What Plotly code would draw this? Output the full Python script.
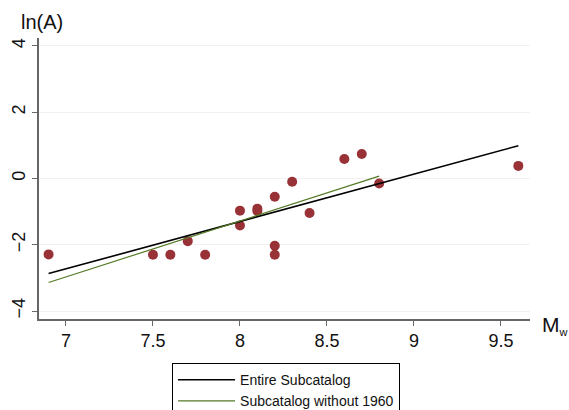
import plotly.graph_objects as go

# Moment magnitude and log amplitude of each event
mw = [6.9, 7.5, 7.6, 7.7, 7.8, 8.0, 8.0, 8.1, 8.1, 8.2, 8.2, 8.2,
      8.3, 8.4, 8.6, 8.7, 8.8, 9.6]
ln_a = [-2.29, -2.30, -2.30, -1.89, -2.30, -0.97, -1.42, -0.91, -0.98,
        -0.55, -2.03, -2.30, -0.10, -1.04, 0.59, 0.74, -0.15, 0.38]

# Fitted regression lines (endpoints of the fitted range)
fit_all_x = [6.9, 9.6]
fit_all_y = [-2.87, 0.99]
fit_no1960_x = [6.9, 8.8]
fit_no1960_y = [-3.14, 0.07]

x_ticks = [7, 7.5, 8, 8.5, 9, 9.5]
x_tick_text = ["7", "7.5", "8", "8.5", "9", "9.5"]
y_ticks = [-4, -2, 0, 2, 4]
y_tick_text = ["\u22124", "\u22122", "0", "2", "4"]

FONT = "Liberation Sans, Arial, Helvetica, sans-serif"

fig = go.Figure()
fig.add_trace(go.Scatter(
    x=mw, y=ln_a, mode="markers",
    marker=dict(color="#983237", size=10, line=dict(width=0)),
    showlegend=False,
))
fig.add_trace(go.Scatter(
    x=fit_all_x, y=fit_all_y, mode="lines",
    line=dict(color="#000000", width=1.6),
    name="Entire Subcatalog",
))
fig.add_trace(go.Scatter(
    x=fit_no1960_x, y=fit_no1960_y, mode="lines",
    line=dict(color="#557a25", width=1.2),
    name="Subcatalog without 1960",
))

fig.update_layout(
    width=569, height=410,
    margin=dict(l=39, r=39, t=38, b=91, autoexpand=False),
    paper_bgcolor="white", plot_bgcolor="white",
    font=dict(family=FONT, color="#111111"),
    showlegend=True,
    legend=dict(
        x=0.271, y=-0.157, xanchor="left", yanchor="top",
        bordercolor="#000000", borderwidth=1, bgcolor="white",
        font=dict(family=FONT, size=14, color="#111111"),
        itemwidth=57, tracegroupgap=0,
    ),
    xaxis=dict(
        range=[6.845, 9.667], tickvals=x_ticks, ticktext=x_tick_text,
        showgrid=False, zeroline=False,
        showline=True, linecolor="#666666", linewidth=1.5,
        ticks="outside", ticklen=5, tickcolor="#666666", tickwidth=1,
        tickfont=dict(family=FONT, size=18, color="#111111"),
    ),
    yaxis=dict(
        range=[-4.24, 4.24], tickvals=y_ticks, ticktext=y_tick_text,
        showgrid=True, gridcolor="#f1f1f1", gridwidth=1, zeroline=False,
        showline=True, linecolor="#666666", linewidth=1.5,
        ticks="outside", ticklen=5, tickcolor="#666666", tickwidth=1,
        tickangle=-90,
        tickfont=dict(family=FONT, size=18, color="#111111"),
    ),
    annotations=[
        dict(text="ln(A)", xref="paper", yref="paper", x=-0.04, y=1.0,
             xanchor="left", yanchor="bottom", yshift=3, showarrow=False,
             font=dict(family=FONT, size=20, color="#111111")),
        dict(text="M<sub><span style='font-size:11px'>w</span></sub>",
             xref="paper", yref="paper", x=1.0, y=0.0,
             xanchor="left", yanchor="middle", xshift=10, yshift=-6,
             showarrow=False,
             font=dict(family=FONT, size=21, color="#111111")),
    ],
)

fig.write_html("out.html")
